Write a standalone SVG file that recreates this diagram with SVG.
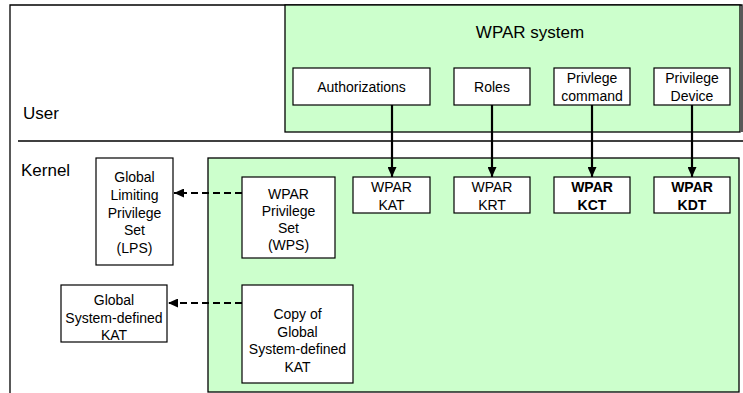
<svg xmlns="http://www.w3.org/2000/svg" width="743" height="393" viewBox="0 0 743 393">
<defs>
<marker id="ah" markerWidth="10" markerHeight="9" refX="10" refY="4.5" orient="auto" markerUnits="userSpaceOnUse">
<path d="M0,0 L10,4.5 L0,9 Z" fill="#000"/>
</marker>
</defs>
<style>
text{font-family:"Liberation Sans",Arial,sans-serif;font-size:14px;fill:#000;text-anchor:middle}
.lbl{text-anchor:start;font-size:17px}
.b{font-weight:bold}
.box{fill:#fff;stroke:#000;stroke-width:1.2}
.green{fill:#ccffcc;stroke:#000;stroke-width:1.3}
.solid{stroke:#000;stroke-width:2.2;fill:none}
.dash{stroke:#000;stroke-width:2.2;fill:none;stroke-dasharray:7,4}
</style>
<rect width="743" height="393" fill="#fff"/>
<g id="frame">
<path d="M10,393 V5 H742 V132" fill="none" stroke="#000" stroke-width="1.3"/>
<line x1="18" y1="141" x2="743" y2="141" stroke="#000" stroke-width="1.3"/>
<text class="lbl" x="23" y="119">User</text>
<text class="lbl" x="21" y="176">Kernel</text>
</g>
<g id="wpar-system">
<rect class="green" x="285" y="5" width="455" height="127"/>
<text x="530" y="38" style="font-size:17px">WPAR system</text>
</g>
<g id="kernel-wpar">
<rect class="green" x="208" y="158" width="531" height="234"/>
</g>
<g id="authorizations"><rect class="box" x="293" y="68" width="137" height="37"/><text x="361.5" y="92">Authorizations</text></g>
<g id="roles"><rect class="box" x="454" y="68" width="76" height="37"/><text x="492" y="92">Roles</text></g>
<g id="priv-command"><rect class="box" x="554" y="68" width="76" height="37"/><text x="592" y="83">Privlege</text><text x="592" y="100.5">command</text></g>
<g id="priv-device"><rect class="box" x="654" y="68" width="76" height="37"/><text x="692" y="83">Privilege</text><text x="692" y="100.5">Device</text></g>
<g id="wpar-kat"><rect class="box" x="353" y="177" width="77" height="36"/><text x="391.5" y="192">WPAR</text><text x="391.5" y="210">KAT</text></g>
<g id="wpar-krt"><rect class="box" x="454" y="177" width="76" height="36"/><text x="492" y="192">WPAR</text><text x="492" y="210">KRT</text></g>
<g id="wpar-kct"><rect class="box" x="554" y="177" width="76" height="36"/><text class="b" x="592" y="192">WPAR</text><text class="b" x="592" y="210">KCT</text></g>
<g id="wpar-kdt"><rect class="box" x="654" y="177" width="76" height="36"/><text class="b" x="692" y="192">WPAR</text><text class="b" x="692" y="210">KDT</text></g>
<g id="wps"><rect class="box" x="242" y="177" width="93" height="81"/><text x="288.5" y="199">WPAR</text><text x="288.5" y="216">Privilege</text><text x="288.5" y="233">Set</text><text x="288.5" y="250">(WPS)</text></g>
<g id="copy-kat"><rect class="box" x="242" y="285" width="111" height="98"/><text x="297.5" y="319">Copy of</text><text x="297.5" y="336.5">Global</text><text x="297.5" y="354">System-defined</text><text x="297.5" y="371.5">KAT</text></g>
<g id="lps"><rect class="box" x="96" y="158" width="77" height="107"/><text x="134.5" y="182">Global</text><text x="134.5" y="199.8">Limiting</text><text x="134.5" y="217.6">Privilege</text><text x="134.5" y="235.4">Set</text><text x="134.5" y="253">(LPS)</text></g>
<g id="global-kat"><rect class="box" x="61" y="285" width="106" height="57"/><text x="114" y="305">Global</text><text x="114" y="322.5">System-defined</text><text x="114" y="340">KAT</text></g>
<g id="connectors">
<line class="solid" x1="392" y1="105" x2="392" y2="177" marker-end="url(#ah)"/>
<line class="solid" x1="492" y1="105" x2="492" y2="177" marker-end="url(#ah)"/>
<line class="solid" x1="592" y1="105" x2="592" y2="177" marker-end="url(#ah)"/>
<line class="solid" x1="692" y1="105" x2="692" y2="177" marker-end="url(#ah)"/>
<line class="dash" x1="242" y1="193" x2="174" y2="193" marker-end="url(#ah)"/>
<line class="dash" x1="242" y1="303" x2="168" y2="303" marker-end="url(#ah)"/>
</g>
</svg>
